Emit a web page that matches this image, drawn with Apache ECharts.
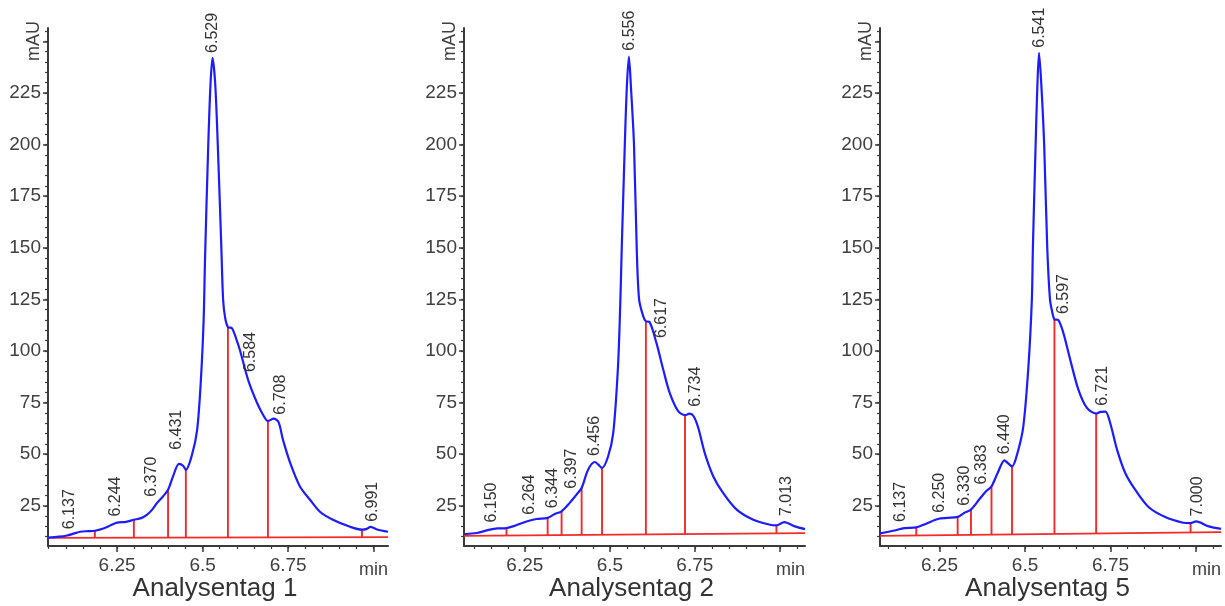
<!DOCTYPE html>
<html>
<head>
<meta charset="utf-8">
<script src="https://cdn.jsdelivr.net/npm/echarts@6/dist/echarts.min.js"></script>
<style>
  html, body { margin: 0; padding: 0; background: #ffffff; }
  #chart { width: 1225px; height: 606px; }
</style>
</head>
<body>
<div id="chart"></div>
<script>
// ---- Analysentag 1: retention time (min) / absorbance (mAU) ----
const time1 = [6.048, 6.080, 6.104, 6.125, 6.142, 6.165, 6.210, 6.230, 6.250, 6.276, 6.320, 6.337, 6.352, 6.367, 6.384, 6.413, 6.431, 6.443, 6.469, 6.484, 6.495, 6.503, 6.507, 6.516, 6.523, 6.529, 6.537, 6.545, 6.555, 6.560, 6.566, 6.586, 6.598, 6.609, 6.633, 6.659, 6.677, 6.708, 6.722, 6.735, 6.756, 6.785, 6.814, 6.843, 6.881, 6.931, 6.980, 6.991, 7.010, 7.042];
const signal1 = [9.6, 10.0, 10.6, 11.6, 12.4, 12.7, 14.0, 15.4, 16.8, 17.2, 19.0, 20.6, 23.0, 26.4, 29.5, 39.0, 45.3, 44.4, 49.7, 61.8, 86.0, 115, 144, 197, 229, 242, 229, 197, 149, 124.7, 116, 111, 106, 100.5, 86, 74.9, 69, 67.2, 65.5, 56.9, 45.8, 34.2, 27.9, 22.1, 18.2, 14.8, 13.8, 14.8, 13.5, 12.4];
const dropTimes1 = [6.185, 6.299, 6.399, 6.451, 6.574, 6.691, 6.966];
const dropHeights1 = [12.9, 18.2, 32.7, 42.4, 111.6, 66.1, 13.4];
const peakTimes1 = [6.137, 6.244, 6.370, 6.431, 6.529, 6.584, 6.708, 6.991];
const baseline1 = [9.4, 9.8];

// ---- Analysentag 2 ----
const time2 = [6.074, 6.108, 6.147, 6.170, 6.215, 6.255, 6.284, 6.338, 6.382, 6.402, 6.436, 6.456, 6.466, 6.495, 6.510, 6.524, 6.531, 6.535, 6.544, 6.550, 6.556, 6.562, 6.571, 6.579, 6.586, 6.598, 6.617, 6.637, 6.657, 6.676, 6.701, 6.734, 6.746, 6.760, 6.779, 6.804, 6.833, 6.873, 6.922, 6.971, 7.013, 7.044, 7.074];
const signal2 = [11.3, 11.8, 13.4, 14.0, 15.0, 17.4, 18.6, 21.0, 26.4, 30.4, 42.5, 46.2, 44.9, 49.0, 60.3, 92.6, 125, 150, 200, 228, 242.6, 228, 200, 150, 125, 116.9, 114.0, 103.9, 91.0, 79.7, 70.8, 69.6, 68.5, 62.8, 50.6, 39.3, 31.2, 23.1, 18.2, 15.8, 17.1, 15.0, 13.7];
const dropTimes2 = [6.196, 6.317, 6.358, 6.417, 6.477, 6.606, 6.721, 6.990];
const dropHeights2 = [14.2, 19.1, 22.3, 33.6, 43.3, 114.4, 68.9, 15.5];
const peakTimes2 = [6.150, 6.264, 6.344, 6.397, 6.456, 6.556, 6.617, 6.734, 7.013];
const baseline2 = [10.4, 11.7];

// ---- Analysentag 5 ----
const time3 = [6.076, 6.118, 6.147, 6.211, 6.245, 6.274, 6.322, 6.366, 6.386, 6.420, 6.440, 6.449, 6.478, 6.495, 6.510, 6.520, 6.523, 6.531, 6.536, 6.541, 6.548, 6.556, 6.565, 6.573, 6.580, 6.597, 6.612, 6.632, 6.656, 6.681, 6.721, 6.735, 6.749, 6.769, 6.793, 6.822, 6.861, 6.910, 6.959, 7.000, 7.037, 7.073];
const signal3 = [11.6, 13.0, 14.2, 16.3, 18.6, 19.1, 21.5, 28.0, 32.0, 40.9, 47.0, 45.8, 50.6, 63.5, 92.6, 125, 150, 200, 228, 244.5, 228, 200, 150, 125, 118.5, 115.0, 108.8, 95.9, 81.3, 72.4, 70.5, 70.6, 65.1, 52.2, 40.9, 32.8, 24.4, 19.5, 16.9, 17.4, 15.0, 13.8];
const dropTimes3 = [6.182, 6.303, 6.342, 6.402, 6.462, 6.586, 6.708, 6.984];
const dropHeights3 = [14.5, 19.6, 23.1, 34.4, 44.1, 115.3, 69.7, 16.6];
const peakTimes3 = [6.137, 6.250, 6.330, 6.383, 6.440, 6.541, 6.597, 6.721, 7.000];
const baseline3 = [10.4, 12.2];

// ---- axes and titles ----
const panelTitles = ['Analysentag 1', 'Analysentag 2', 'Analysentag 5'];
const xMajorTicks = [6.25, 6.5, 6.75, 7.0];
const xTickLabels = [6.25, 6.5, 6.75];
const yMajorTicks = [25, 50, 75, 100, 125, 150, 175, 200, 225, 250];
const yTickLabels = [25, 50, 75, 100, 125, 150, 175, 200, 225];
const yAxisTitle = 'mAU';
const xAxisTitle = 'min';

// ---- layout / style ----
const FONT = '"Liberation Sans", Arial, Helvetica, sans-serif';
const AXIS = '#3a3a3a';
const TEXT = '#404040';
const BLUE = '#1c1cff';
const RED = '#f22a2a';
const GRID_TOP = 28;
const GRID_HEIGHT = 518;
const Y_RANGE = [5.5, 256.5];

const layout = [
  { left: 48, width: 340, xRange: [6.048, 7.042],
    labelOffsets: [[-9, -3], [1, -7], [-7, -5], [-2, -14], [0, -5], [19, 44], [7, -4], [2, -5]] },
  { left: 464, width: 341, xRange: [6.071, 7.074],
    labelOffsets: [[1, -7], [0, -6], [-4, -5], [-3, -8], [0, -6], [1, -6], [12, 16], [6, -7], [2, -6]] },
  { left: 880, width: 341, xRange: [6.076, 7.073],
    labelOffsets: [[0, -7], [0, -6], [-2, -6], [-3, -8], [0, -6], [1, -5], [5, -6], [2, -6], [2, -5]] }
];

const panels = [
  { time: time1, signal: signal1, dropTimes: dropTimes1, dropHeights: dropHeights1, peaks: peakTimes1, baseline: baseline1 },
  { time: time2, signal: signal2, dropTimes: dropTimes2, dropHeights: dropHeights2, peaks: peakTimes2, baseline: baseline2 },
  { time: time3, signal: signal3, dropTimes: dropTimes3, dropHeights: dropHeights3, peaks: peakTimes3, baseline: baseline3 }
];

// trace points plus the tops of the integration drop lines, sorted by time
function buildCurve(p) {
  const pts = p.time.map((t, i) => [t, p.signal[i]])
    .concat(p.dropTimes.map((t, i) => [t, p.dropHeights[i]]));
  pts.sort((a, b) => a[0] - b[0]);
  return pts;
}

function valueAt(pts, t) {
  if (t <= pts[0][0]) return pts[0][1];
  for (let i = 1; i < pts.length; i++) {
    if (t <= pts[i][0]) {
      const a = pts[i - 1], b = pts[i];
      return a[1] + (b[1] - a[1]) * (t - a[0]) / (b[0] - a[0]);
    }
  }
  return pts[pts.length - 1][1];
}

function minorTicks(range, step) {
  const out = [];
  for (let k = Math.ceil(range[0] / step - 1e-9); k * step <= range[1] + 1e-9; k++) {
    out.push(Math.round(k * step * 1000) / 1000);
  }
  return out;
}

const grid = [], xAxis = [], yAxis = [], series = [], graphic = [];

panels.forEach((p, i) => {
  const L = layout[i];
  const curve = buildCurve(p);
  const xi = 2 * i, yi = 2 * i;

  grid.push({ left: L.left, width: L.width, top: GRID_TOP, height: GRID_HEIGHT });

  xAxis.push({
    type: 'value', gridIndex: i, position: 'bottom', min: L.xRange[0], max: L.xRange[1],
    axisLine: { show: true, onZero: false, lineStyle: { color: AXIS, width: 2 } },
    axisTick: { show: true, customValues: xMajorTicks, length: 6, lineStyle: { color: AXIS, width: 1.5 } },
    axisLabel: { show: true, customValues: xTickLabels, margin: 10, fontSize: 19, color: TEXT, fontFamily: FONT,
                 formatter: v => String(v) },
    splitLine: { show: false }
  });
  xAxis.push({
    type: 'value', gridIndex: i, position: 'bottom', min: L.xRange[0], max: L.xRange[1],
    axisLine: { show: false, onZero: false },
    axisTick: { show: true, customValues: minorTicks(L.xRange, 0.05), length: 3, lineStyle: { color: AXIS, width: 1.2 } },
    axisLabel: { show: false },
    splitLine: { show: false }
  });

  yAxis.push({
    type: 'value', gridIndex: i, position: 'left', min: Y_RANGE[0], max: Y_RANGE[1],
    axisLine: { show: true, onZero: false, lineStyle: { color: AXIS, width: 2 } },
    axisTick: { show: true, customValues: yMajorTicks, length: 5, lineStyle: { color: AXIS, width: 1.5 } },
    axisLabel: { show: true, customValues: yTickLabels, margin: 7, fontSize: 19, color: TEXT, fontFamily: FONT },
    splitLine: { show: false }
  });
  yAxis.push({
    type: 'value', gridIndex: i, position: 'left', min: Y_RANGE[0], max: Y_RANGE[1],
    axisLine: { show: false, onZero: false },
    axisTick: { show: true, customValues: minorTicks([10, 255], 5), length: 3, lineStyle: { color: AXIS, width: 1.2 } },
    axisLabel: { show: false },
    splitLine: { show: false }
  });

  // integration baseline
  series.push({
    type: 'line', xAxisIndex: xi, yAxisIndex: yi, silent: true, showSymbol: false, z: 2,
    data: [[L.xRange[0], p.baseline[0]], [L.xRange[1], p.baseline[1]]],
    lineStyle: { color: RED, width: 1.8 }
  });

  // drop lines from baseline up to the trace
  series.push({
    type: 'custom', xAxisIndex: xi, yAxisIndex: yi, silent: true, z: 2,
    data: p.dropTimes.map((t, k) => [t, p.dropHeights[k]]),
    renderItem: (params, api) => {
      const t = api.value(0), h = api.value(1);
      const b = p.baseline[0] + (p.baseline[1] - p.baseline[0]) * (t - L.xRange[0]) / (L.xRange[1] - L.xRange[0]);
      const a = api.coord([t, b]), c = api.coord([t, h]);
      return { type: 'line', shape: { x1: a[0], y1: a[1], x2: c[0], y2: c[1] },
               style: { stroke: RED, lineWidth: 1.9 } };
    }
  });

  // chromatogram trace
  series.push({
    type: 'line', xAxisIndex: xi, yAxisIndex: yi, silent: true, showSymbol: false, z: 3,
    smooth: 0.3, data: curve,
    lineStyle: { color: BLUE, width: 2.2 }
  });

  // retention time labels
  series.push({
    type: 'custom', xAxisIndex: xi, yAxisIndex: yi, silent: true, clip: false, z: 4,
    data: p.peaks.map(t => [t, valueAt(curve, t)]),
    renderItem: (params, api) => {
      const pt = api.coord([api.value(0), api.value(1)]);
      const off = L.labelOffsets[params.dataIndex];
      return {
        type: 'text', x: pt[0] + off[0], y: pt[1] + off[1], rotation: Math.PI / 2,
        style: { text: p.peaks[params.dataIndex].toFixed(3), fill: '#333333',
                 font: '16px ' + FONT, align: 'left', verticalAlign: 'middle',
                 textAlign: 'left', textVerticalAlign: 'middle' }
      };
    }
  });

  // axis names and panel title
  graphic.push({
    type: 'text', x: L.left - 14, y: 41, rotation: Math.PI / 2,
    style: { text: yAxisTitle, fill: TEXT, font: '18px ' + FONT, align: 'center', verticalAlign: 'middle' }
  });
  graphic.push({
    type: 'text', x: L.left + L.width, y: 570,
    style: { text: xAxisTitle, fill: TEXT, font: '18px ' + FONT, align: 'right', verticalAlign: 'middle' }
  });
  graphic.push({
    type: 'text', x: L.left + L.width / 2 - 3, y: 589,
    style: { text: panelTitles[i], fill: '#333333', font: '26px ' + FONT, align: 'center', verticalAlign: 'middle' }
  });
});

const chart = echarts.init(document.getElementById('chart'), null, { renderer: 'canvas' });
chart.setOption({
  animation: false,
  backgroundColor: '#ffffff',
  grid, xAxis, yAxis, series, graphic
});
</script>
</body>
</html>
